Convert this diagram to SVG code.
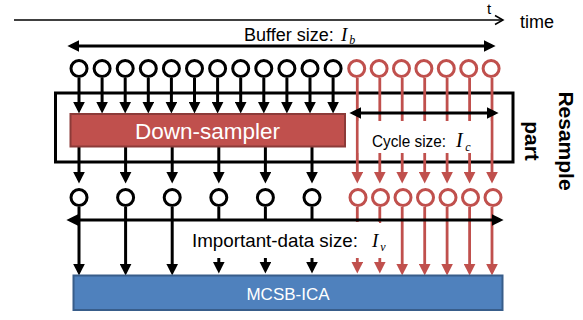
<svg xmlns="http://www.w3.org/2000/svg" width="583" height="320" viewBox="0 0 583 320">
<style>
  .bk{stroke:#000;stroke-width:3;fill:none}
  .rd{stroke:#C0504D;stroke-width:2.8;fill:none}
  .cb{stroke:#000;stroke-width:3;fill:#fff}
  .cr{stroke:#C0504D;stroke-width:3;fill:#fff}
  .sans{font-family:"Liberation Sans",Arial,sans-serif;fill:#000}
  .it{font-family:"Liberation Serif","Times New Roman",serif;font-style:italic;fill:#000}
  .ab{marker-end:url(#ha)}
  .ar{marker-end:url(#hr)}
  .dbl{marker-start:url(#ha);marker-end:url(#ha)}
</style>
<defs>
  <marker id="ha" markerUnits="userSpaceOnUse" markerWidth="12" markerHeight="12" viewBox="0 0 10 10" refX="7" refY="5" orient="auto-start-reverse">
    <path d="M0,0 L10,5 L0,10 z" fill="#000"/>
  </marker>
  <marker id="hr" markerUnits="userSpaceOnUse" markerWidth="12" markerHeight="12" viewBox="0 0 10 10" refX="7" refY="5" orient="auto">
    <path d="M0,0 L10,5 L0,10 z" fill="#C0504D"/>
  </marker>
</defs>

<!-- time axis -->
<g id="time-axis">
  <line x1="14" y1="20" x2="503" y2="20" stroke="#000" stroke-width="1.5"/>
  <path d="M495,15.5 L503,20 L495,24.5" fill="none" stroke="#000" stroke-width="1.5"/>
  <text x="487" y="13.5" class="sans" font-size="15">t</text>
  <text x="520" y="28" class="sans" font-size="18">time</text>
</g>

<!-- resample frame -->
<g id="resample-part">
  <rect x="55.5" y="93" width="457.5" height="69" fill="none" stroke="#000" stroke-width="3"/>
  <text transform="translate(559,141) rotate(90)" text-anchor="middle" class="sans" font-size="21" font-weight="bold">Resample</text>
  <text transform="translate(525,141) rotate(90)" text-anchor="middle" class="sans" font-size="21" font-weight="bold">part</text>
</g>

<!-- connectors -->
<g id="connectors">
  <!-- top black arrows into down-sampler -->
  <line class="bk ab" x1="79" y1="78" x2="79" y2="110"/>
  <line class="bk ab" x1="102.1" y1="78" x2="102.1" y2="110"/>
  <line class="bk ab" x1="125.2" y1="78" x2="125.2" y2="110"/>
  <line class="bk ab" x1="148.3" y1="78" x2="148.3" y2="110"/>
  <line class="bk ab" x1="171.4" y1="78" x2="171.4" y2="110"/>
  <line class="bk ab" x1="194.5" y1="78" x2="194.5" y2="110"/>
  <line class="bk ab" x1="217.6" y1="78" x2="217.6" y2="110"/>
  <line class="bk ab" x1="240.7" y1="78" x2="240.7" y2="110"/>
  <line class="bk ab" x1="263.8" y1="78" x2="263.8" y2="110"/>
  <line class="bk ab" x1="286.9" y1="78" x2="286.9" y2="110"/>
  <line class="bk ab" x1="310" y1="78" x2="310" y2="110"/>
  <line class="bk ab" x1="333.1" y1="78" x2="333.1" y2="110"/>
  <!-- down-sampler outputs -->
  <line class="bk ab" x1="79" y1="147" x2="79" y2="180"/>
  <line class="bk ab" x1="125.6" y1="147" x2="125.6" y2="180"/>
  <line class="bk ab" x1="172.2" y1="147" x2="172.2" y2="180"/>
  <line class="bk ab" x1="218.8" y1="147" x2="218.8" y2="180"/>
  <line class="bk ab" x1="265.4" y1="147" x2="265.4" y2="180"/>
  <line class="bk ab" x1="312" y1="147" x2="312" y2="180"/>
  <!-- red arrows through resample part -->
  <line class="rd ar" x1="357.3" y1="78" x2="357.3" y2="180"/>
  <line class="rd ar" x1="379.8" y1="78" x2="379.8" y2="180"/>
  <line class="rd ar" x1="402.2" y1="78" x2="402.2" y2="180"/>
  <line class="rd ar" x1="424.7" y1="78" x2="424.7" y2="180"/>
  <line class="rd ar" x1="447.1" y1="78" x2="447.1" y2="180"/>
  <line class="rd ar" x1="469.6" y1="78" x2="469.6" y2="180"/>
  <line class="rd ar" x1="492" y1="78" x2="492" y2="180"/>
  <!-- lower black: long arrows -->
  <line class="bk ab" x1="79" y1="207" x2="79" y2="272"/>
  <line class="bk ab" x1="125.6" y1="207" x2="125.6" y2="272"/>
  <line class="bk ab" x1="172.2" y1="207" x2="172.2" y2="272"/>
  <!-- lower black: ticks + short arrows -->
  <line class="bk" x1="218.8" y1="207" x2="218.8" y2="221"/>
  <line class="bk" x1="265.4" y1="207" x2="265.4" y2="221"/>
  <line class="bk" x1="312" y1="207" x2="312" y2="221"/>
  <line class="bk ab" x1="218.8" y1="258" x2="218.8" y2="270"/>
  <line class="bk ab" x1="265.4" y1="258" x2="265.4" y2="270"/>
  <line class="bk ab" x1="312" y1="258" x2="312" y2="270"/>
  <!-- lower red -->
  <line class="rd" x1="357.3" y1="207" x2="357.3" y2="223"/>
  <line class="rd" x1="379.8" y1="207" x2="379.8" y2="223"/>
  <line class="rd ar" x1="357.3" y1="258" x2="357.3" y2="270"/>
  <line class="rd ar" x1="379.8" y1="258" x2="379.8" y2="270"/>
  <line class="rd ar" x1="402.2" y1="207" x2="402.2" y2="272"/>
  <line class="rd ar" x1="424.7" y1="207" x2="424.7" y2="272"/>
  <line class="rd ar" x1="447.1" y1="207" x2="447.1" y2="272"/>
  <line class="rd ar" x1="469.6" y1="207" x2="469.6" y2="272"/>
  <line class="rd ar" x1="492" y1="207" x2="492" y2="272"/>
  <!-- size arrows -->
  <line class="bk dbl" x1="71" y1="46" x2="492" y2="46"/>
  <line class="bk dbl" x1="353" y1="113" x2="495" y2="113"/>
  <line class="bk dbl" x1="70" y1="220" x2="500" y2="220"/>
</g>

<!-- label backgrounds and labels -->
<g id="buffer-size-label">
  <text x="244" y="40.5" class="sans" font-size="18">Buffer size:</text>
  <text x="341" y="40.5" class="it" font-size="19">I<tspan dx="2" dy="3.5" font-size="12">b</tspan></text>
</g>
<g id="cycle-size-label">
  <rect x="358.8" y="121" width="131.5" height="32" fill="#fff"/>
  <text x="372" y="147" class="sans" font-size="16" textLength="74" lengthAdjust="spacingAndGlyphs">Cycle size:</text>
  <text x="456" y="147" class="it" font-size="20">I<tspan dx="2.5" dy="4" font-size="12">c</tspan></text>
</g>
<g id="important-size-label">
  <rect x="185" y="222" width="194" height="35" fill="#fff"/>
  <text x="192" y="246.5" class="sans" font-size="18.5" textLength="166" lengthAdjust="spacingAndGlyphs">Important-data size:</text>
  <text x="372" y="246.5" class="it" font-size="19">I<tspan dx="2" dy="4" font-size="12">v</tspan></text>
</g>

<!-- top buffer samples -->
<g id="buffer-samples">
  <circle class="cb" cx="79" cy="68.5" r="8"/>
  <circle class="cb" cx="102.1" cy="68.5" r="8"/>
  <circle class="cb" cx="125.2" cy="68.5" r="8"/>
  <circle class="cb" cx="148.3" cy="68.5" r="8"/>
  <circle class="cb" cx="171.4" cy="68.5" r="8"/>
  <circle class="cb" cx="194.5" cy="68.5" r="8"/>
  <circle class="cb" cx="217.6" cy="68.5" r="8"/>
  <circle class="cb" cx="240.7" cy="68.5" r="8"/>
  <circle class="cb" cx="263.8" cy="68.5" r="8"/>
  <circle class="cb" cx="286.9" cy="68.5" r="8"/>
  <circle class="cb" cx="310" cy="68.5" r="8"/>
  <circle class="cb" cx="333.1" cy="68.5" r="8"/>
  <circle class="cr" cx="356.7" cy="68.5" r="8"/>
  <circle class="cr" cx="379.1" cy="68.5" r="8"/>
  <circle class="cr" cx="401.5" cy="68.5" r="8"/>
  <circle class="cr" cx="423.9" cy="68.5" r="8"/>
  <circle class="cr" cx="446.3" cy="68.5" r="8"/>
  <circle class="cr" cx="468.7" cy="68.5" r="8"/>
  <circle class="cr" cx="491.1" cy="68.5" r="8"/>
</g>

<!-- down-sampler -->
<g id="down-sampler">
  <rect x="70.5" y="114" width="274.5" height="32.5" fill="#C0504D" stroke="#8C3A38" stroke-width="2"/>
  <text x="207.5" y="138.5" text-anchor="middle" class="sans" font-size="22.5" style="fill:#fff">Down-sampler</text>
</g>

<!-- resampled data -->
<g id="important-samples">
  <circle class="cb" cx="79" cy="197.5" r="8"/>
  <circle class="cb" cx="125.6" cy="197.5" r="8"/>
  <circle class="cb" cx="172.2" cy="197.5" r="8"/>
  <circle class="cb" cx="218.8" cy="197.5" r="8"/>
  <circle class="cb" cx="265.4" cy="197.5" r="8"/>
  <circle class="cb" cx="312" cy="197.5" r="8"/>
  <circle class="cr" cx="358" cy="197.5" r="8"/>
  <circle class="cr" cx="380.5" cy="197.5" r="8"/>
  <circle class="cr" cx="403" cy="197.5" r="8"/>
  <circle class="cr" cx="425.5" cy="197.5" r="8"/>
  <circle class="cr" cx="448" cy="197.5" r="8"/>
  <circle class="cr" cx="470.5" cy="197.5" r="8"/>
  <circle class="cr" cx="493" cy="197.5" r="8"/>
</g>

<!-- MCSB-ICA -->
<g id="mcsb-ica">
  <rect x="73.5" y="275.5" width="429" height="34.5" fill="#4F81BD" stroke="#385D8A" stroke-width="2"/>
  <text x="288" y="299.5" text-anchor="middle" class="sans" font-size="17" style="fill:#fff">MCSB-ICA</text>
</g>
</svg>
